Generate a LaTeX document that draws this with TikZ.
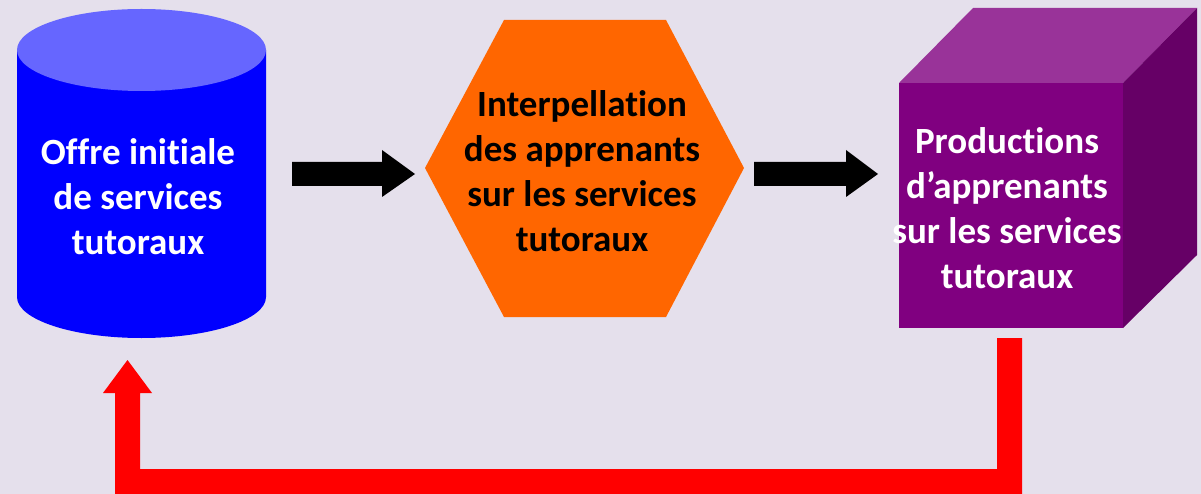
\documentclass[tikz,border=0pt]{standalone}
\usepackage{fontspec}
\setmainfont[Ligatures=NoCommon]{Carlito}
\definecolor{bg}{HTML}{E5E0EC}
\definecolor{cylside}{HTML}{0000FF}
\definecolor{cyltop}{HTML}{6666FF}
\definecolor{hexfill}{HTML}{FF6600}
\definecolor{cubefront}{HTML}{800080}
\definecolor{cubetop}{HTML}{993399}
\definecolor{cubeside}{HTML}{660066}
\definecolor{redarrow}{HTML}{FF0000}
\begin{document}
\begin{tikzpicture}[x=1pt,y=-1pt,
  lbl/.style={align=center,font=\fontsize{37}{45}\selectfont\bfseries,inner sep=0pt},
  blockarrow/.style={fill=black,draw=none}]
\useasboundingbox (0,0) rectangle (1201,494);
\fill[bg] (0,0) rectangle (1201,494);
% cylinder
\fill[cylside] (17,50) -- (17,297) arc[start angle=180,end angle=0,x radius=124.5,y radius=41] -- (266,50) -- cycle;
\fill[cyltop] (141.5,50) ellipse[x radius=124.5,y radius=41];
\node[lbl,text=white] (offre) at (138,197) {Offre initiale\\de services\\tutoraux};
\coordinate (cylbot) at (127.5,360);
% hexagon
\fill[hexfill] (425,168) -- (504,20) -- (666,20) -- (744,168) -- (666,317) -- (504,317) -- cycle;
\node[lbl,text=black] (interp) at (582,171) {Interpellation\\des apprenants\\sur les services\\tutoraux};
% cube
\fill[cubetop] (899,83) -- (973,8) -- (1197,8) -- (1123,83) -- cycle;
\fill[cubeside] (1123,83) -- (1197,8) -- (1197,255) -- (1123,328) -- cycle;
\fill[cubefront] (899,83) rectangle (1123,328);
\node[lbl,text=white] (prod) at (1007,208) {Productions\\d’apprenants\\sur les services\\tutoraux};
\coordinate (cubebot) at (1009.5,338);
% black block arrows
\coordinate (a1s) at (292,174);
\coordinate (a1t) at (415,174);
\fill[blockarrow] ([yshift=-12]a1s) -- ([xshift=-33,yshift=-12]a1t) -- ([xshift=-33,yshift=-23]a1t) -- (a1t) -- ([xshift=-33,yshift=24]a1t) -- ([xshift=-33,yshift=12]a1t) -- ([yshift=12]a1s) -- cycle;
\coordinate (a2s) at (754,174);
\coordinate (a2t) at (878,174);
\fill[blockarrow] ([yshift=-12]a2s) -- ([xshift=-32,yshift=-12]a2t) -- ([xshift=-32,yshift=-23]a2t) -- (a2t) -- ([xshift=-32,yshift=24]a2t) -- ([xshift=-32,yshift=12]a2t) -- ([yshift=12]a2s) -- cycle;
% red feedback arrow
\fill[redarrow] ([xshift=-12.5]cubebot) -- ([xshift=12.5]cubebot) -- (1022,494) -- (115,494) -- (115,393) -- (103,393) -- (cylbot) -- (152,393) -- (140,393) -- (140,469) -- (997,469) -- cycle;
\end{tikzpicture}
\end{document}
